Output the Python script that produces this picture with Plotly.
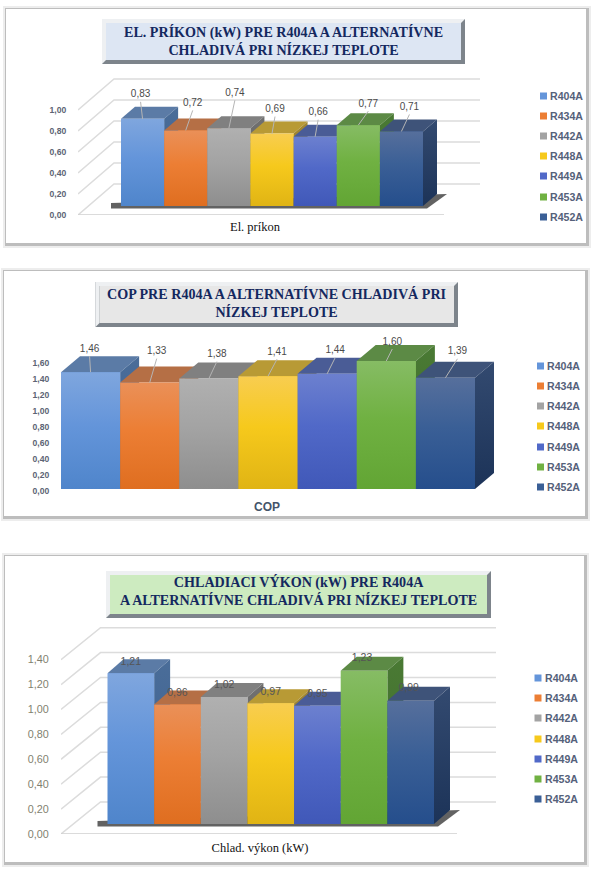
import plotly.graph_objects as go

# ---------- data ----------
REFRIGERANTS = ["R404A", "R434A", "R442A", "R448A", "R449A", "R453A", "R452A"]
EL_PRIKON = [0.83, 0.72, 0.74, 0.69, 0.66, 0.77, 0.71]
COP = [1.46, 1.33, 1.38, 1.41, 1.44, 1.60, 1.39]
CHLAD_VYKON = [1.21, 0.96, 1.02, 0.97, 0.95, 1.23, 0.99]
TICKS_1 = [0.0, 0.2, 0.4, 0.6, 0.8, 1.0]
TICKS_2 = [0.0, 0.2, 0.4, 0.6, 0.8, 1.0, 1.2, 1.4, 1.6]
TICKS_3 = [0.0, 0.2, 0.4, 0.6, 0.8, 1.0, 1.2, 1.4]

# ---------- style ----------
FRONT_TOP = ["#7fa6de", "#ea9058", "#b0b0b0", "#f8cd50", "#6c80cf", "#86bc64", "#566f9c"]
FRONT_MID = ["#6495da", "#ec7e34", "#a3a3a3", "#f6c91c", "#5169c8", "#70b142", "#3a5f96"]
FRONT_BOT = ["#4f85cb", "#df6e20", "#8e8e8e", "#e0b414", "#4058b8", "#62a534", "#254e8c"]
TOP_FACE = ["#5b7ba6", "#b56f45", "#808080", "#b89a35", "#4a5c96", "#5c8a45", "#3e5379"]
SIDE_TOP = ["#4a6d99", "#a0623a", "#707070", "#a38830", "#3f5088", "#4a7a34", "#334a70"]
SIDE_BOT = ["#3d5f8e", "#8f5530", "#606060", "#8f7628", "#33447a", "#3e6a2a", "#1c3358"]

PAGE_W, PAGE_H = 600, 871


def fx(px):
    return px / PAGE_W


def fy(py):
    return 1 - py / PAGE_H


def dec(v):
    return f"{v:.2f}".replace(".", ",")


PANELS = [
    dict(values=EL_PRIKON, ticks=TICKS_1,
         title="EL. PRÍKON (kW) PRE R404A A ALTERNATÍVNE<br>CHLADIVÁ PRI NÍZKEJ TEPLOTE",
         title_size=14.1, title_fill="#dde6f3", title_y=41,
         box=(102, 19, 465, 64), card=(6, 9, 586, 243),
         cat="El. príkon", cat_px=255, cat_font=dict(family="Liberation Serif", size=12.5, color="#111111"),
         cat_standoff=0,
         left=78, right=480, top=72, y0=215, unit=105, bar_left=121, bar_right=423, base_py=206,
         depth=(14, 12), wall=(36, 31), floor_right=444, grid=True, shadow=True,
         tick_font=dict(family="Liberation Sans", size=8.6, color="#5c6474", weight="bold"), tick_gap=9,
         lab_dx=[-2, 7, 6, 3, 3, 10, 8], lab_dy=[-24, -27, -35, -24, -24, -21, -24], leaders=True,
         lab_font=dict(family="Liberation Sans", size=10, color="#4a4a4a"),
         leg_x=547, leg_y=[96, 116, 136, 156, 176, 197, 217]),
    dict(values=COP, ticks=TICKS_2,
         title="COP PRE R404A A ALTERNATÍVNE CHLADIVÁ PRI<br>NÍZKEJ TEPLOTE",
         title_size=14.1, title_fill="#e7e7e7", title_y=302.5,
         box=(95.5, 282, 458, 327), card=(4, 271, 585, 516),
         cat="<b>COP</b>", cat_px=267, cat_font=dict(family="Liberation Sans", size=12, color="#44546a"),
         cat_standoff=5,
         left=61, right=510, top=332, y0=491, unit=80, bar_left=61, bar_right=475, base_py=489,
         depth=(19, 16), wall=None, floor_right=None, grid=False, shadow=False,
         tick_font=dict(family="Liberation Sans", size=8.6, color="#5c6474", weight="bold"), tick_gap=9,
         lab_dx=[-1, 7, 8, 9, 8, 6, 12], lab_dy=[-23, -31, -24, -24, -23, -19, -26], leaders=True,
         lab_font=dict(family="Liberation Sans", size=10, color="#4a4a4a"),
         leg_x=544, leg_y=[366, 386, 406, 426, 447, 467, 487]),
    dict(values=CHLAD_VYKON, ticks=TICKS_3,
         title="CHLADIACI VÝKON (kW) PRE R404A<br>A ALTERNATÍVNE CHLADIVÁ PRI NÍZKEJ TEPLOTE",
         title_size=14.1, title_fill="#cdebc0", title_y=590.5,
         box=(106, 571, 491, 618), card=(5, 556, 584, 862),
         cat="Chlad. výkon (kW)", cat_px=260, cat_font=dict(family="Liberation Serif", size=12.5, color="#111111"),
         cat_standoff=1.5,
         left=61, right=496, top=622, y0=834, unit=124.5, bar_left=107.5, bar_right=434, base_py=824,
         depth=(16, 14), wall=(39.5, 32), floor_right=457, grid=True, shadow=True,
         tick_font=dict(family="Liberation Sans", size=10.8, color="#7f7f6f"), tick_gap=9,
         lab_dx=[0, 0, 0, 0, 0, -2, -2], lab_dy=[-11, -11, -11.5, -11, -11, -12.5, -12], leaders=False,
         lab_font=dict(family="Liberation Sans", size=10.5, color="#555555"),
         leg_x=541.5, leg_y=[678, 698, 718, 739, 759, 779, 799]),
]

fig = go.Figure()
shapes, annotations = [], []
layout_axes = {}
N = len(REFRIGERANTS)


def poly(xs, ys, ax, ay, **kw):
    fig.add_trace(go.Scatter(x=xs, y=ys, xaxis=ax, yaxis=ay, mode="lines", fill="toself",
                             line=dict(width=0), hoverinfo="skip", showlegend=False, **kw))


def rect(x0, y0, x1, y1, color):
    shapes.append(dict(type="rect", xref="paper", yref="paper", x0=fx(x0), x1=fx(x1), y0=fy(y0), y1=fy(y1),
                       fillcolor=color, line=dict(width=0), layer="below"))


for p_i, p in enumerate(PANELS):
    ax = "x" if p_i == 0 else f"x{p_i + 1}"
    ay = "y" if p_i == 0 else f"y{p_i + 1}"
    W = (p["bar_right"] - p["bar_left"]) / N
    unit = p["unit"]
    to_x = lambda px: (px - p["bar_left"]) / W
    base = (p["y0"] - p["base_py"]) / unit
    ddx, ddy = p["depth"][0] / W, p["depth"][1] / unit

    # card
    x0, y0, x1, y1 = p["card"]
    rect(x0 - 3, y0 - 3, x1 + 5, y1 + 5, "#ededed")
    rect(x0 - 1, y0 - 1, x1 + 3, y1 + 3, "#bdbdbd")
    rect(x0, y0, x1, y1, "#ffffff")

    # title box with bevel
    bx0, by0, bx1, by1 = p["box"]
    bev = 4
    rect(bx0, by0, bx1, by1, "#7d848b")
    shapes.append(dict(type="path", xref="paper", yref="paper", layer="below", fillcolor="#eef0f2", line=dict(width=0),
                       path=f"M{fx(bx0)},{fy(by1)} L{fx(bx0)},{fy(by0)} L{fx(bx1)},{fy(by0)} "
                            f"L{fx(bx1 - bev)},{fy(by0 + bev)} L{fx(bx0 + bev)},{fy(by0 + bev)} L{fx(bx0 + bev)},{fy(by1 - bev)} Z"))
    rect(bx0 + bev, by0 + bev, bx1 - bev, by1 - bev, p["title_fill"])
    annotations.append(dict(text=f"<b>{p['title']}</b>", xref="paper", yref="paper", x=fx((bx0 + bx1) / 2), y=fy(p["title_y"]),
                            showarrow=False, align="center", xanchor="center", yanchor="middle",
                            font=dict(family="Liberation Serif", size=p["title_size"], color="#14285f")))

    # axes
    xa = dict(domain=[fx(p["left"]), fx(p["right"])], range=[to_x(p["left"]), to_x(p["right"])],
              anchor=ay, showgrid=False, zeroline=False, showline=False, automargin=False,
              tickmode="array", tickvals=[to_x(p["cat_px"])], ticktext=[p["cat"]],
              tickfont=p["cat_font"], ticks="outside", ticklen=p["cat_standoff"], tickcolor="rgba(0,0,0,0)", fixedrange=True)
    ya = dict(domain=[fy(p["y0"]), fy(p["top"])], range=[0, (p["y0"] - p["top"]) / unit],
              anchor=ax, showgrid=False, zeroline=False, showline=False, automargin=False,
              tickmode="array", tickvals=p["ticks"], ticktext=[dec(t) for t in p["ticks"]],
              tickfont=p["tick_font"], ticks="outside", ticklen=p["tick_gap"], tickcolor="rgba(0,0,0,0)", fixedrange=True)
    layout_axes["xaxis" if p_i == 0 else f"xaxis{p_i + 1}"] = xa
    layout_axes["yaxis" if p_i == 0 else f"yaxis{p_i + 1}"] = ya

    # bars (solid base layer)
    for i, name in enumerate(REFRIGERANTS):
        fig.add_trace(go.Bar(x=[i + 0.5], y=[p["values"][i]], base=base, width=1, name=name, xaxis=ax, yaxis=ay,
                             marker=dict(color=FRONT_MID[i], line=dict(width=0)), showlegend=False, hoverinfo="skip"))

    # oblique walls / gridlines
    if p["grid"]:
        wdx, wdy = p["wall"][0] / W, p["wall"][1] / unit
        xl = to_x(p["left"])
        xr = to_x(p["right"])
        for t in p["ticks"]:
            fig.add_trace(go.Scatter(x=[xl, xl + wdx, xr], y=[t, t + wdy, t + wdy], xaxis=ax, yaxis=ay, mode="lines",
                                     line=dict(color="#dcdcdc", width=1.5), hoverinfo="skip", showlegend=False))
        fig.add_trace(go.Scatter(x=[xl, to_x(p["floor_right"])], y=[0, 0], xaxis=ax, yaxis=ay, mode="lines",
                                 line=dict(color="#cfcfcf", width=1.5), hoverinfo="skip", showlegend=False))
    if p["shadow"]:
        sh = 10 / W
        poly([-sh, N + ddx, N + ddx + sh, N + 4 / W, -sh],
             [base + 3 / unit, base + ddy, base + ddy, base - 2.5 / unit, base - 2.5 / unit],
             ax, ay, fillcolor="rgba(45,45,45,0.75)")

    # painter's order: top, side, front gradient, left to right
    for i in range(N):
        v = p["values"][i]
        ytop = base + v
        poly([i, i + 1, i + 1 + ddx, i + ddx, i], [ytop, ytop, ytop + ddy, ytop + ddy, ytop], ax, ay,
             fillcolor=TOP_FACE[i])
        poly([i + 1, i + 1 + ddx, i + 1 + ddx, i + 1, i + 1], [base, base + ddy, ytop + ddy, ytop, base], ax, ay,
             fillgradient=dict(type="vertical", colorscale=[[0, SIDE_BOT[i]], [1, SIDE_TOP[i]]]))
        poly([i, i + 1, i + 1, i, i], [base, base, ytop, ytop, base], ax, ay,
             fillgradient=dict(type="vertical", colorscale=[[0, FRONT_BOT[i]], [0.55, FRONT_MID[i]], [1, FRONT_TOP[i]]]))

    # data labels and leaders
    for i in range(N):
        v = p["values"][i]
        ytop = base + v
        lx = i + 0.5 + p["lab_dx"][i] / W
        ly = ytop - p["lab_dy"][i] / unit
        if p["leaders"]:
            fig.add_trace(go.Scatter(x=[i + 0.5, lx], y=[ytop, ly - 7 / unit], xaxis=ax, yaxis=ay, mode="lines",
                                     line=dict(color="#b5b5b5", width=1), hoverinfo="skip", showlegend=False))
        fig.add_trace(go.Scatter(x=[lx], y=[ly], xaxis=ax, yaxis=ay, mode="text", text=[dec(v)],
                                 textposition="middle center", textfont=p["lab_font"], cliponaxis=False,
                                 hoverinfo="skip", showlegend=False))

    # legend
    for i, name in enumerate(REFRIGERANTS):
        ly = p["leg_y"][i]
        sx = p["leg_x"] - 7
        shapes.append(dict(type="rect", xref="paper", yref="paper", x0=fx(sx), x1=fx(sx + 7), y0=fy(ly + 3.5), y1=fy(ly - 3.5),
                           fillcolor=FRONT_MID[i], line=dict(width=0)))
        annotations.append(dict(text=f"<b>{name}</b>", xref="paper", yref="paper", x=fx(p["leg_x"] + 1), y=fy(ly), showarrow=False,
                                xanchor="left", yanchor="middle",
                                font=dict(family="Liberation Sans", size=10.6, color="#55617a")))

fig.update_layout(width=PAGE_W, height=PAGE_H, margin=dict(l=0, r=0, t=0, b=0, pad=0), autosize=False,
                  paper_bgcolor="#ffffff", plot_bgcolor="rgba(0,0,0,0)", barmode="overlay", bargap=0,
                  showlegend=False, shapes=shapes, annotations=annotations, **layout_axes)

fig.write_html("out.html", config=dict(displayModeBar=False),
               post_script="document.body.style.margin='0';document.body.style.overflow='hidden';")
